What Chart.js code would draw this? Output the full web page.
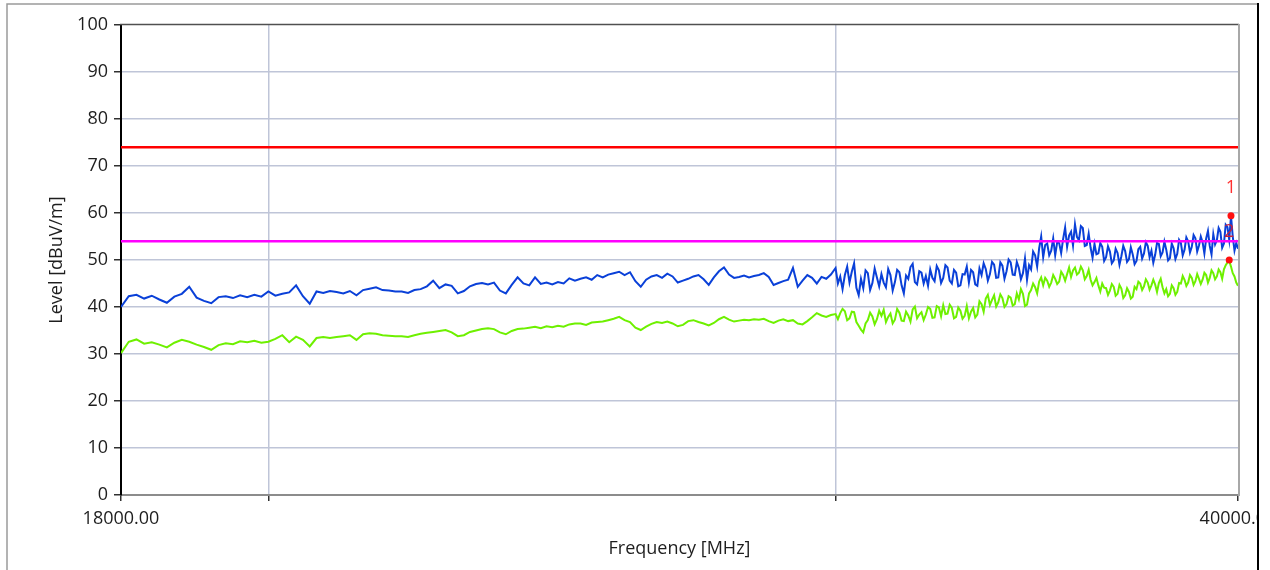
<!DOCTYPE html>
<html lang="en">

<head>
	<meta charset="UTF-8">
	<title>Level vs Frequency</title>
	<script src="https://cdn.jsdelivr.net/npm/chart.js"></script>
	<style>
		body {
			margin: 0;
			padding: 0;
			background: #fff;
		}

		#scanChart {
			display: block;
		}
	</style>
</head>

<body>
	<canvas id="scanChart" width="1270" height="570"></canvas>

	<script>
		// Sweep frequencies [MHz]: 100 MHz step up to 30 GHz, 50 MHz step above
		const freqMHz = [
			18000, 18100, 18200, 18300, 18400, 18500, 18600, 18700, 18800, 18900,
			19000, 19100, 19200, 19300, 19400, 19500, 19600, 19700, 19800, 19900,
			20000, 20100, 20200, 20300, 20400, 20500, 20600, 20700, 20800, 20900,
			21000, 21100, 21200, 21300, 21400, 21500, 21600, 21700, 21800, 21900,
			22000, 22100, 22200, 22300, 22400, 22500, 22600, 22700, 22800, 22900,
			23000, 23100, 23200, 23300, 23400, 23500, 23600, 23700, 23800, 23900,
			24000, 24100, 24200, 24300, 24400, 24500, 24600, 24700, 24800, 24900,
			25000, 25100, 25200, 25300, 25400, 25500, 25600, 25700, 25800, 25900,
			26000, 26100, 26200, 26300, 26400, 26500, 26600, 26700, 26800, 26900,
			27000, 27100, 27200, 27300, 27400, 27500, 27600, 27700, 27800, 27900,
			28000, 28100, 28200, 28300, 28400, 28500, 28600, 28700, 28800, 28900,
			29000, 29100, 29200, 29300, 29400, 29500, 29600, 29700, 29800, 29900,
			30000, 30050, 30100, 30150, 30200, 30250, 30300, 30350, 30400, 30450, 30500, 30550, 30600, 30650, 30700, 30750, 30800, 30850, 30900, 30950,
			31000, 31050, 31100, 31150, 31200, 31250, 31300, 31350, 31400, 31450, 31500, 31550, 31600, 31650, 31700, 31750, 31800, 31850, 31900, 31950,
			32000, 32050, 32100, 32150, 32200, 32250, 32300, 32350, 32400, 32450, 32500, 32550, 32600, 32650, 32700, 32750, 32800, 32850, 32900, 32950,
			33000, 33050, 33100, 33150, 33200, 33250, 33300, 33350, 33400, 33450, 33500, 33550, 33600, 33650, 33700, 33750, 33800, 33850, 33900, 33950,
			34000, 34050, 34100, 34150, 34200, 34250, 34300, 34350, 34400, 34450, 34500, 34550, 34600, 34650, 34700, 34750, 34800, 34850, 34900, 34950,
			35000, 35050, 35100, 35150, 35200, 35250, 35300, 35350, 35400, 35450, 35500, 35550, 35600, 35650, 35700, 35750, 35800, 35850, 35900, 35950,
			36000, 36050, 36100, 36150, 36200, 36250, 36300, 36350, 36400, 36450, 36500, 36550, 36600, 36650, 36700, 36750, 36800, 36850, 36900, 36950,
			37000, 37050, 37100, 37150, 37200, 37250, 37300, 37350, 37400, 37450, 37500, 37550, 37600, 37650, 37700, 37750, 37800, 37850, 37900, 37950,
			38000, 38050, 38100, 38150, 38200, 38250, 38300, 38350, 38400, 38450, 38500, 38550, 38600, 38650, 38700, 38750, 38800, 38850, 38900, 38950,
			39000, 39050, 39100, 39150, 39200, 39250, 39300, 39350, 39400, 39450, 39500, 39550, 39600, 39650, 39700, 39750, 39800, 39850, 39900, 39950,
			40000
		];

		// Peak detector trace [dBuV/m] (blue)
		const peakLevel = [
			40.0, 42.3, 42.6, 41.8, 42.4, 41.6, 40.9, 42.2, 42.8, 44.3,
			42.0, 41.3, 40.8, 42.1, 42.3, 41.9, 42.5, 42.1, 42.6, 42.2,
			43.3, 42.4, 42.8, 43.1, 44.6, 42.3, 40.7, 43.3, 43.0, 43.4,
			43.2, 42.9, 43.4, 42.5, 43.6, 43.9, 44.2, 43.6, 43.5, 43.3,
			43.3, 43.0, 43.6, 43.8, 44.4, 45.6, 44.0, 44.8, 44.5, 42.9,
			43.4, 44.4, 44.9, 45.1, 44.8, 45.2, 43.5, 42.9, 44.7, 46.3,
			45.0, 44.6, 46.3, 44.9, 45.2, 44.8, 45.3, 45.0, 46.1, 45.6,
			46.0, 46.3, 45.8, 46.8, 46.3, 46.9, 47.2, 47.5, 46.8, 47.4,
			45.5, 44.3, 45.8, 46.5, 46.8, 46.2, 47.1, 46.5, 45.2, 45.6,
			46.0, 46.5, 46.8, 45.9, 44.7, 46.3, 47.6, 48.4, 46.9, 46.2,
			46.4, 46.7, 46.3, 46.6, 46.8, 47.2, 46.4, 44.7, 45.1, 45.5,
			45.8, 48.3, 44.3, 45.6, 46.8, 46.2, 45.0, 46.4, 46.0, 46.9,
			48.3, 45.0, 46.5, 43.8, 46.8, 48.6, 45.2, 47.5, 49.3, 44.1, 42.5, 46.0, 44.0, 47.8, 47.2, 43.6, 45.1, 48.2, 46.3, 44.4,
			47.0, 45.2, 44.2, 48.1, 46.8, 43.5, 45.3, 47.9, 47.4, 44.6, 42.9, 46.7, 46.0, 48.5, 49.2, 45.3, 44.8, 47.6, 47.3, 45.0,
			46.6, 44.5, 48.0, 46.2, 45.5, 48.7, 47.8, 45.1, 46.2, 48.9, 48.4, 45.6, 45.0, 47.9, 47.3, 44.4, 44.6, 47.0, 46.9, 48.6,
			45.2, 47.9, 47.4, 44.8, 44.5, 48.2, 46.8, 49.3, 48.1, 45.6, 47.0, 49.6, 49.0, 46.2, 46.3, 49.5, 48.8, 46.0, 47.6, 50.1,
			49.5, 46.9, 46.8, 49.6, 48.3, 45.9, 47.2, 50.3, 45.8, 48.9, 48.0, 51.8, 51.0, 48.6, 52.5, 55.0, 50.6, 53.2, 53.5, 51.0,
			52.0, 54.6, 51.0, 53.8, 53.6, 51.5, 54.5, 56.9, 52.8, 55.2, 56.0, 53.1, 57.6, 54.9, 54.2, 57.2, 56.8, 53.0, 53.2, 55.6,
			52.6, 50.5, 53.4, 51.2, 51.4, 53.6, 52.8, 49.8, 50.6, 52.9, 51.8, 49.3, 49.9, 52.4, 51.5, 49.0, 50.8, 53.0, 51.9, 49.6,
			50.2, 52.7, 51.2, 49.1, 49.8, 52.3, 52.8, 50.3, 51.4, 53.8, 53.0, 50.6, 52.0, 49.4, 51.1, 53.6, 53.4, 50.8, 51.6, 53.9,
			52.2, 49.9, 50.4, 53.5, 52.5, 50.2, 51.3, 54.3, 53.6, 51.0, 52.2, 54.8, 54.0, 51.6, 52.8, 55.3, 54.6, 51.8, 53.1, 55.0,
			53.8, 51.4, 54.6, 56.2, 53.0, 51.2, 55.5, 53.3, 54.2, 56.8, 56.0, 52.6, 53.5, 57.5, 57.0, 54.3, 59.4, 55.0, 52.0, 53.6,
			52.4
		];

		// Average detector trace [dBuV/m] (green)
		const avgLevel = [
			30.2, 32.6, 33.1, 32.2, 32.5, 32.0, 31.4, 32.4, 33.0, 32.6,
			32.0, 31.5, 30.9, 31.9, 32.3, 32.1, 32.7, 32.5, 32.8, 32.4,
			32.6, 33.2, 34.0, 32.5, 33.7, 33.0, 31.6, 33.4, 33.6, 33.4,
			33.6, 33.8, 34.0, 33.0, 34.2, 34.4, 34.3, 34.0, 33.9, 33.8,
			33.8, 33.6, 34.0, 34.3, 34.5, 34.7, 34.9, 35.1, 34.6, 33.8,
			34.0, 34.7, 35.0, 35.3, 35.5, 35.3, 34.6, 34.2, 34.9, 35.3,
			35.4, 35.6, 35.8, 35.5, 35.9, 35.7, 36.0, 35.8, 36.3, 36.5,
			36.5, 36.2, 36.7, 36.8, 36.9, 37.2, 37.5, 37.9, 37.2, 36.8,
			35.6, 35.1, 35.8, 36.4, 36.8, 36.6, 36.9, 36.5, 35.9, 36.2,
			37.0, 37.2, 36.8, 36.5, 36.1, 36.6, 37.4, 37.9, 37.3, 36.9,
			37.1, 37.3, 37.2, 37.4, 37.3, 37.5, 37.0, 36.6, 37.1, 37.4,
			37.0, 37.2, 36.5, 36.3, 37.0, 37.8, 38.7, 38.2, 37.9, 38.3,
			38.5, 37.4, 38.7, 39.6, 39.1, 37.2, 37.6, 39.0, 38.9, 36.8, 36.0, 35.2, 34.6, 36.5, 37.2, 38.8, 38.0, 36.3, 37.4, 39.2,
			38.1, 39.4, 36.8, 37.9, 38.6, 36.5, 37.3, 39.6, 38.8, 37.1, 37.0, 39.0, 38.2, 36.9, 39.5, 40.1, 37.6, 38.4, 38.9, 37.2,
			38.4, 40.0, 39.6, 37.7, 37.8, 40.2, 39.9, 38.0, 40.4, 38.5, 38.6, 40.5, 39.8, 37.6, 37.9, 39.9, 39.2, 37.5, 38.1, 40.2,
			37.6, 39.0, 39.8, 37.8, 38.4, 41.2, 40.6, 39.0, 41.8, 42.6, 40.4, 41.5, 42.5, 40.1, 41.0, 42.7, 41.9, 40.0, 40.6, 42.3,
			42.0, 40.3, 40.6, 42.9, 41.6, 43.8, 42.8, 40.2, 40.5, 42.9, 43.6, 45.0, 44.2, 42.9, 45.4, 46.3, 44.6, 46.2, 45.6, 44.3,
			45.2, 46.8, 46.0, 44.9, 45.4, 47.5, 46.8, 45.6, 47.0, 48.4, 46.4, 47.8, 48.4, 46.9, 47.3, 48.6, 47.8, 45.9, 46.6, 47.9,
			45.8, 44.6, 45.3, 46.2, 44.6, 43.3, 45.0, 44.1, 44.0, 42.6, 43.5, 44.9, 44.3, 42.4, 42.8, 44.7, 43.9, 41.9, 42.5, 44.0,
			43.2, 41.8, 42.2, 44.3, 43.8, 45.4, 45.0, 43.6, 44.4, 45.9, 45.2, 43.7, 44.6, 45.8, 44.8, 43.2, 45.1, 46.0, 44.2, 42.9,
			43.8, 42.3, 42.8, 44.6, 44.0, 42.6, 43.2, 45.1, 45.0, 46.6, 45.8, 44.5, 45.2, 46.8, 46.2, 44.7, 45.5, 47.0, 46.0, 44.9,
			45.8, 47.3, 46.8, 45.2, 46.2, 47.8, 47.2, 45.9, 46.5, 48.0, 47.4, 46.0, 48.0, 48.9, 49.5, 49.8, 48.6, 47.2, 46.5, 45.2,
			44.5
		];

		// Limit lines
		const limitFreqs = [18000, 40000];
		const peakLimit = [74, 74];
		const avgLimit = [54, 54];

		// Markers
		const markerFreqs = [39800, 39750];
		const markerLevels = [59.4, 50.0];
		const markerLabels = ['1', '2'];
		const markerLabelColors = ['#ff3030', '#c8203c'];

		// Axis ticks
		const xTickValues = [18000, 20000, 30000, 40000];
		const xTickLabels = ['18000.00', '', '', '40000.00'];
		const yMin = 0;
		const yMax = 100;
		const yStep = 10;

		const gridColor = '#bfc5d8';
		const textColor = '#1e1e1e';
		const fontFamily = '"Open Sans", "DejaVu Sans", sans-serif';

		function toPoints(xs, ys) {
			return xs.map((x, i) => ({x: x, y: ys[i]}));
		}

		// Frame lines around the plot and the window edges
		const framePlugin = {
			id: 'frame',
			afterDraw(chart) {
				const ctx = chart.ctx;
				const area = chart.chartArea;
				ctx.save();
				// plot top and right edges
				ctx.lineWidth = 1.5;
				ctx.strokeStyle = '#505050';
				ctx.beginPath();
				ctx.moveTo(area.left - 1, area.top - 0.5);
				ctx.lineTo(area.right + 1, area.top - 0.5);
				ctx.stroke();
				ctx.lineWidth = 2;
				ctx.strokeStyle = '#a8a8a8';
				ctx.beginPath();
				ctx.moveTo(area.right + 1, area.top - 1);
				ctx.lineTo(area.right + 1, area.bottom + 1);
				ctx.stroke();
				// outer window edges
				ctx.fillStyle = '#fff';
				ctx.fillRect(1259, 0, 20, chart.height);
				ctx.lineWidth = 1.5;
				ctx.strokeStyle = '#9a9a9a';
				ctx.beginPath();
				ctx.moveTo(7, chart.height);
				ctx.lineTo(7, 4);
				ctx.lineTo(1258, 4);
				ctx.stroke();
				ctx.lineWidth = 2;
				ctx.strokeStyle = '#000';
				ctx.beginPath();
				ctx.moveTo(1258, 3);
				ctx.lineTo(1258, chart.height);
				ctx.stroke();
				ctx.restore();
			}
		};

		// Marker number labels above the marker points
		const markerLabelPlugin = {
			id: 'markerLabels',
			afterDatasetsDraw(chart) {
				const meta = chart.getDatasetMeta(0);
				const ctx = chart.ctx;
				ctx.save();
				ctx.font = '18px ' + fontFamily;
				ctx.textAlign = 'center';
				ctx.textBaseline = 'alphabetic';
				meta.data.forEach((pt, i) => {
					ctx.fillStyle = markerLabelColors[i];
					ctx.fillText(markerLabels[i], pt.x, pt.y - 23);
				});
				ctx.restore();
			}
		};

		const ctx = document.getElementById('scanChart').getContext('2d');
		new Chart(ctx, {
			type: 'line',
			data: {
				datasets: [{
					label: 'Markers',
					type: 'scatter',
					data: toPoints(markerFreqs, markerLevels),
					pointRadius: 3.5,
					pointBackgroundColor: '#ff1010',
					pointBorderWidth: 0,
					showLine: false,
					order: 0
				}, {
					label: 'Average limit',
					data: toPoints(limitFreqs, avgLimit),
					borderColor: '#ff00ff',
					borderWidth: 2.5,
					pointRadius: 0,
					order: 1
				}, {
					label: 'Peak limit',
					data: toPoints(limitFreqs, peakLimit),
					borderColor: '#ff0000',
					borderWidth: 2.5,
					pointRadius: 0,
					order: 2
				}, {
					label: 'Peak',
					data: toPoints(freqMHz, peakLevel),
					borderColor: '#0a40d8',
					borderWidth: 2,
					pointRadius: 0,
					tension: 0,
					order: 3
				}, {
					label: 'Average',
					data: toPoints(freqMHz, avgLevel),
					borderColor: '#6ef000',
					borderWidth: 2,
					pointRadius: 0,
					tension: 0,
					order: 4
				}]
			},
			options: {
				responsive: false,
				animation: false,
				events: [],
				layout: {
					padding: {top: 25, right: 32, bottom: 0, left: 0}
				},
				plugins: {
					legend: {display: false},
					tooltip: {enabled: false}
				},
				scales: {
					x: {
						type: 'logarithmic',
						min: 18000,
						max: 40000,
						afterFit: scale => {
							scale.height = 75;
							scale.paddingLeft = 0;
							scale.paddingRight = 0;
						},
						afterBuildTicks: scale => {
							scale.ticks = xTickValues.map(v => ({value: v}));
						},
						ticks: {
							autoSkip: false,
							maxRotation: 0,
							padding: 7,
							color: textColor,
							font: {family: fontFamily, size: 18},
							callback: (value) => {
								const i = xTickValues.indexOf(value);
								return i >= 0 ? xTickLabels[i] : '';
							}
						},
						grid: {
							color: c => (c.tick && (c.tick.value === 18000 || c.tick.value === 40000)) ? 'rgba(0,0,0,0)' : gridColor,
							lineWidth: 1.5,
							tickColor: '#303030',
							tickLength: 6,
							tickWidth: 1.5
						},
						border: {color: '#8c8c8c', width: 2},
						title: {
							display: true,
							text: 'Frequency [MHz]',
							color: textColor,
							font: {family: fontFamily, size: 18},
							padding: {top: 0, bottom: 10}
						}
					},
					y: {
						min: yMin,
						max: yMax,
						afterFit: scale => { scale.width = 121; },
						ticks: {
							stepSize: yStep,
							padding: 6,
							color: textColor,
							font: {family: fontFamily, size: 18}
						},
						grid: {
							color: c => (c.tick && (c.tick.value === yMin || c.tick.value === yMax)) ? 'rgba(0,0,0,0)' : gridColor,
							lineWidth: 1.5,
							tickColor: '#303030',
							tickLength: 7,
							tickWidth: 1.5
						},
						border: {color: '#000', width: 2},
						title: {
							display: true,
							text: 'Level [dBuV/m]',
							color: textColor,
							font: {family: fontFamily, size: 18},
							padding: {top: 46, bottom: 0}
						}
					}
				}
			},
			plugins: [framePlugin, markerLabelPlugin]
		});
	</script>

</body>

</html>
